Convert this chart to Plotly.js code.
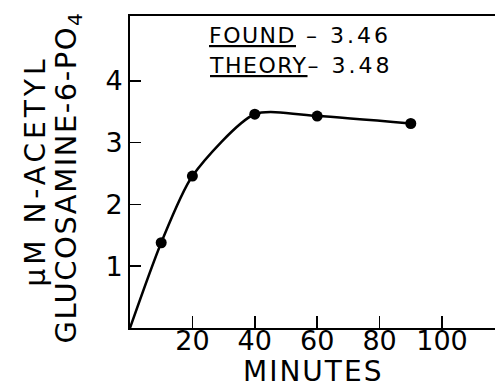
<!DOCTYPE html>
<html><head><meta charset="utf-8">
<script src="https://cdn.plot.ly/plotly-3.0.1.min.js"></script>
<style>html,body{margin:0;padding:0;background:#fff}#chart{width:495px;height:388px}</style>
</head><body><div id="chart"></div>
<script>
// Curve (drawn through origin) and measured points
const curveMinutes = [0, 10, 20, 40, 60, 90];
const curveValues = [0, 1.38, 2.46, 3.46, 3.43, 3.31];
const pointMinutes = [10, 20, 40, 60, 90];
const pointValues = [1.38, 2.46, 3.46, 3.43, 3.31];
const xTickVals = [20, 40, 60, 80, 100];
const yTickVals = [1, 2, 3, 4];
const foundText = '<u><span style="letter-spacing:1.5px">FOUND</span></u><span style="letter-spacing:3px"> – 3.46</span>';
const theoryText = '<u><span style="letter-spacing:1.5px">THEORY</span></u><span style="letter-spacing:3px">– 3.48</span>';
const yTitle1 = '<span style="letter-spacing:4px">μM N-ACETYL</span>';
const yTitle2 = '<span style="letter-spacing:1.5px">GLUCOSAMINE-6-PO<sub>4</sub></span>';
const xTitle = '<span style="letter-spacing:2px">MINUTES</span>';

const FONT = "DejaVu Sans, sans-serif";
const traces = [
  {x: curveMinutes, y: curveValues, mode: 'lines', type: 'scatter',
   line: {color: '#000', width: 2.5, shape: 'spline', smoothing: 0.7}, hoverinfo: 'skip'},
  {x: pointMinutes, y: pointValues, mode: 'markers', type: 'scatter',
   marker: {color: '#000', size: 11}}
];
const layout = {
  width: 495, height: 388,
  margin: {l: 130, r: 0, t: 16, b: 60},
  paper_bgcolor: '#fff', plot_bgcolor: '#fff',
  showlegend: false,
  font: {family: FONT, color: '#000'},
  xaxis: {range: [0, 117], showline: true, linewidth: 2, linecolor: '#000', mirror: true,
    ticks: 'inside', ticklen: 12, tickwidth: 1.5, tickcolor: '#000', ticklabelstandoff: -12,
    tickvals: xTickVals, tickfont: {size: 27, family: FONT}, showgrid: false, zeroline: false},
  yaxis: {range: [0, 5.05], showline: true, linewidth: 2, linecolor: '#000',
    ticks: 'inside', ticklen: 11, tickwidth: 1.5, tickcolor: '#000',
    tickvals: yTickVals, tickfont: {size: 27, family: FONT}, showgrid: false, zeroline: false},
  annotations: [
    {x: 24.8, y: 4.73, xref: 'x', yref: 'y', text: foundText, showarrow: false,
     xanchor: 'left', yanchor: 'middle', font: {size: 22, family: FONT}},
    {x: 24.8, y: 4.25, xref: 'x', yref: 'y', text: theoryText, showarrow: false,
     xanchor: 'left', yanchor: 'middle', font: {size: 22, family: FONT}},
    {x: -0.26, y: 0.502, xref: 'paper', yref: 'paper', text: yTitle1, showarrow: false,
     textangle: -90, xanchor: 'center', yanchor: 'middle', font: {size: 28, family: FONT}},
    {x: -0.17, y: 0.482, xref: 'paper', yref: 'paper', text: yTitle2, showarrow: false,
     textangle: -90, xanchor: 'center', yanchor: 'middle', font: {size: 29, family: FONT}},
    {x: 0.5, y: -0.14, xref: 'paper', yref: 'paper', text: xTitle, showarrow: false,
     xanchor: 'center', yanchor: 'middle', font: {size: 28, family: FONT}}
  ]
};
Plotly.newPlot('chart', traces, layout, {staticPlot: true, displayModeBar: false});
</script></body></html>
